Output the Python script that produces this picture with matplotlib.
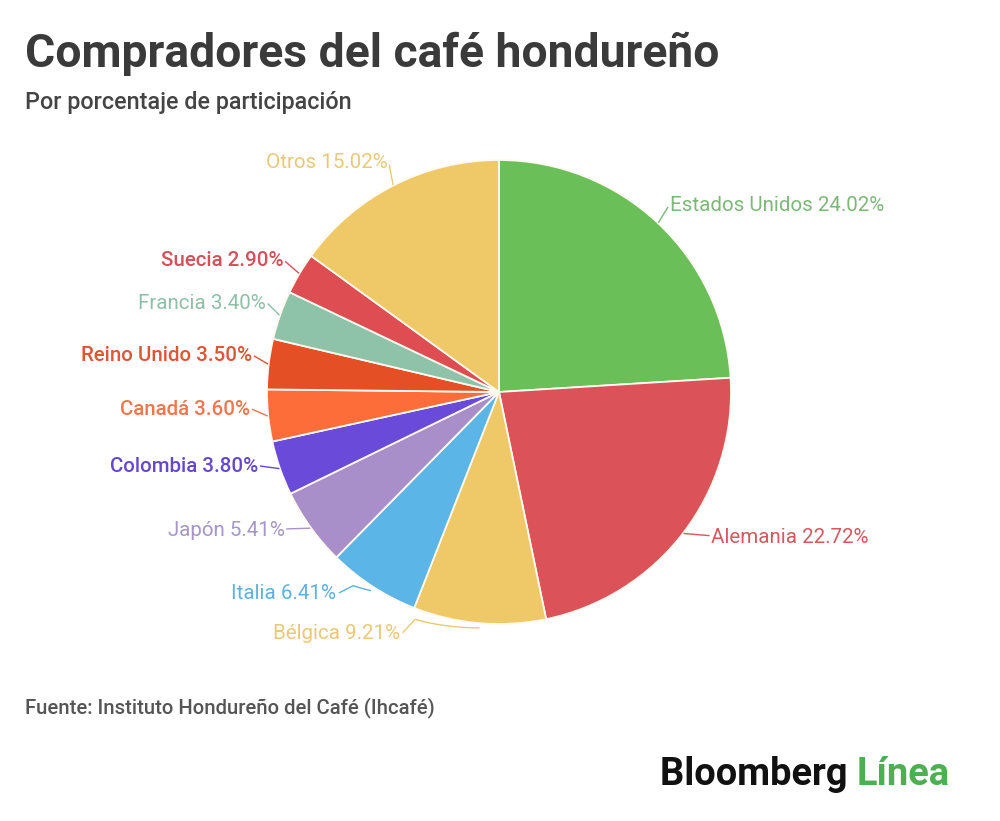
import numpy as np
import matplotlib.pyplot as plt

plt.rcParams['font.family'] = ['Roboto', 'DejaVu Sans']

countries = ['Estados Unidos', 'Alemania', 'Bélgica', 'Italia', 'Japón', 'Colombia',
             'Canadá', 'Reino Unido', 'Francia', 'Suecia', 'Otros']
shares = [24.02, 22.72, 9.21, 6.41, 5.41, 3.80, 3.60, 3.50, 3.40, 2.90, 15.02]
slice_colors = ['#6abf59', '#db5358', '#efc867', '#5bb5e6', '#a98fc9', '#6a4bd9',
                '#fd6d39', '#e44f26', '#8fc3a9', '#dd4d52', '#efc867']
label_colors = ['#7db879', '#d4585e', '#ebc878', '#5db2e0', '#a596c7', '#6548d0',
                '#f2764c', '#df5535', '#8ebfa9', '#d6505c', '#eac87a']
label_weights = ['normal', 'normal', 'normal', 'normal', 'normal', 'medium',
                 'medium', 'medium', 'normal', 'medium', 'normal']

# label placement: angle shift (deg, clockwise) and radius, in pie units
label_shift = [-0.8, -3.0, 17.4, 6.0, 2.9, 1.9, 1.8, 1.4, 1.5, 0.7, 1.2]
label_radius = [1.09, 1.108, 1.125, 1.115, 1.10, 1.088, 1.077, 1.077, 1.077, 1.09, 1.097]


def polar(theta, r):
    # theta measured clockwise from 12 o'clock
    phi = np.radians(90 - theta)
    return r * np.cos(phi), r * np.sin(phi)


fig = plt.figure(figsize=(10, 8.21), dpi=100, facecolor='white')
ax = fig.add_axes([0.267, (821 - 392 - 232) / 821, 0.464, 464 / 821])

ax.pie(shares, colors=slice_colors, startangle=90, counterclock=False, radius=1,
       wedgeprops=dict(edgecolor='#fffaf0', linewidth=1.3))
ax.set_xlim(-1, 1)
ax.set_ylim(-1, 1)
ax.set_aspect('equal')
ax.axis('off')

total = sum(shares)
cum = np.cumsum([0] + shares[:-1])
for i, name in enumerate(countries):
    mid = (cum[i] + shares[i] / 2) / total * 360
    lab = mid + label_shift[i]
    r = label_radius[i]
    if abs(label_shift[i]) > 4:
        # bracket-like leader hugging the arc
        arc = np.linspace(mid, lab - 2, 20)
        rr = np.linspace(1.02, 1.045, 20)
        xs, ys = polar(arc, rr)
        xe, ye = polar(lab - 0.5, r - 0.01)
        xs = np.append(xs, xe)
        ys = np.append(ys, ye)
    else:
        x0, y0 = polar(mid, 1.005)
        x1, y1 = polar(lab, r - 0.012)
        xs, ys = [x0, x1], [y0, y1]
    ax.plot(xs, ys, color=label_colors[i], lw=1.0, clip_on=False)
    tx, ty = polar(lab, r)
    ha = 'right' if lab > 180 else 'left'
    ax.text(tx, ty, f'{name} {shares[i]:.2f}%', ha=ha, va='center', fontsize=14.8,
            fontweight=label_weights[i], color=label_colors[i], clip_on=False)

fig.text(0.025, 1 - 67 / 821, 'Compradores del café hondureño', fontsize=33.3,
         fontweight='bold', color='#3a3a3a', va='baseline', ha='left')
fig.text(0.025, 1 - 109 / 821, 'Por porcentaje de participación', fontsize=16.8,
         fontweight='medium', color='#444444', va='baseline', ha='left')
fig.text(0.025, 1 - 713 / 821, 'Fuente: Instituto Hondureño del Café (Ihcafé)',
         fontsize=14.6, fontweight='medium', color='#555555', va='baseline', ha='left')

logo = fig.text(0.66, 1 - 785 / 821, 'Bloomberg ', fontsize=27.4, fontweight='bold',
                color='#111111', va='baseline', ha='left')
fig.canvas.draw()
bb = logo.get_window_extent()
fig.text(bb.x1 / 1000, 1 - 785 / 821, 'Línea', fontsize=27.4, fontweight='bold',
         color='#4caf50', va='baseline', ha='left')

fig.savefig('out.png', dpi=100, facecolor='white')
